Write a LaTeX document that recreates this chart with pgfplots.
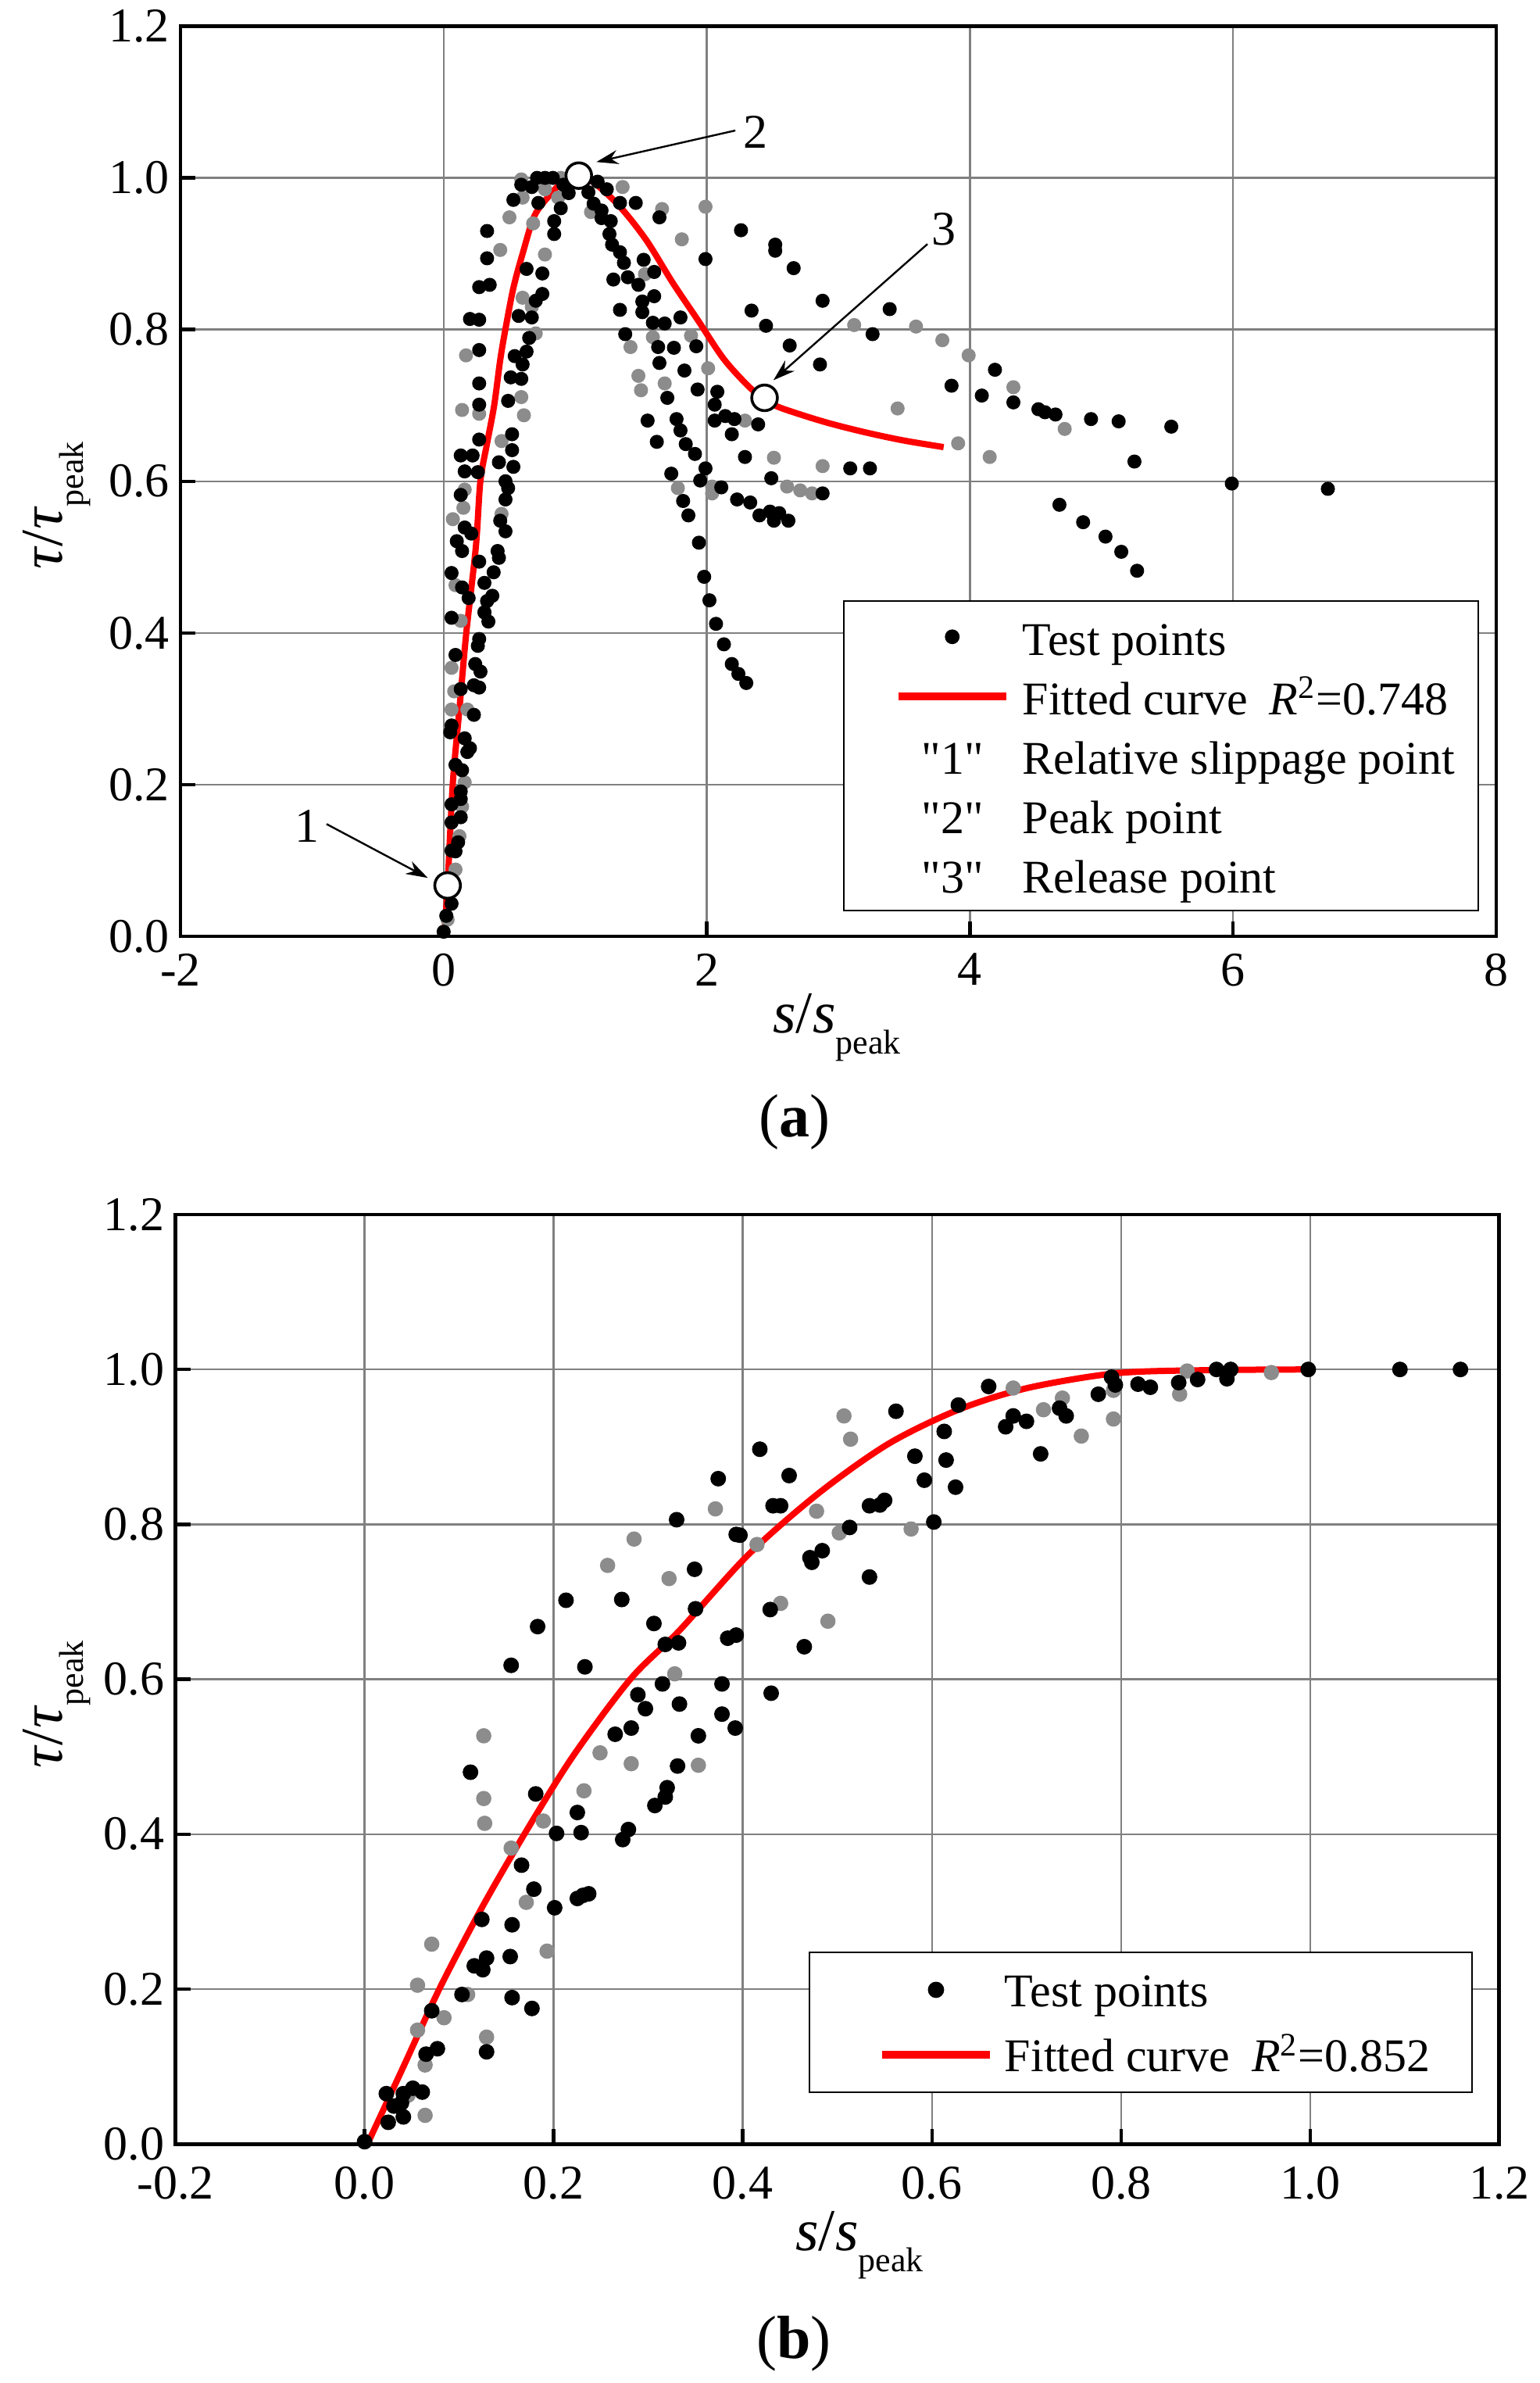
\documentclass[border=0pt]{standalone}
\usepackage{fontspec}
\setmainfont{Liberation Serif}
\newfontfamily\qfont{Liberation Serif}
\usepackage{pgfplots}
\pgfplotsset{compat=1.18}
\usetikzlibrary{arrows.meta}

\pgfplotsset{
  myax/.style={
    scale only axis,
    axis line style={line width=1.2pt},
    tick pos=left, tick align=inside,
    major tick length=4.75pt,
    every tick/.style={black, line width=1.1pt},
    grid=major,
    major grid style={line width=0.6pt, draw=black!50},
    ticklabel style={font=\fontsize{15.5}{15.5}\selectfont},
    /pgf/number format/assume math mode=true,
    ymin=0, ymax=1.2, ytick={0,0.2,0.4,0.6,0.8,1.0,1.2},
    yticklabel style={/pgf/number format/.cd, fixed, fixed zerofill, precision=1},
    legend cell align=left,
  },
  graypts/.style={only marks, mark=*, mark size=2.05pt, draw=black!45, fill=black!45, forget plot},
  blackpts/.style={only marks, mark=*, mark size=2.05pt, black},
  fitline/.style={red, line width=2pt, no marks, smooth, tension=0.5},
  dotlegend/.style={legend image code/.code={\path (0pt,0pt); \draw[mark repeat=2,mark phase=2,##1] plot coordinates {(9pt,0pt) (26.25pt,0pt) (43.5pt,0pt)};}},
  linelegend/.style={legend image code/.code={\path (0pt,0pt); \draw[##1, line width=2.5pt] (9pt,0pt) -- (43.5pt,0pt);}},
}

\begin{document}
\begin{tikzpicture}
\path[use as bounding box] (0,0) rectangle (492.5pt,762.25pt);

% ================= (a) =================
\begin{axis}[myax,
  at={(57.75pt,462.75pt)}, anchor=south west,
  width=421pt, height=291.1pt,
  xmin=-2, xmax=8, xtick={-2,0,2,4,6,8},
  xticklabel style={yshift=-2pt},
  legend style={at={(0.987,0.0275)}, anchor=south east, draw=black, line width=0.6pt,
    inner xsep=7.5pt, inner ysep=2pt, font=\fontsize{15}{15}\selectfont,
    nodes={inner sep=0pt, text height=15.5pt, text depth=3.5pt}, column sep=4pt},
]
\addplot[graypts] coordinates {
(0.59,0.998) (0.77,0.985) (0.89,1.0) (0.60,0.974) (0.87,0.974) (0.50,0.948) (0.68,0.94)
(0.43,0.905) (0.77,0.899) (0.60,0.842) (0.67,0.830) (0.70,0.795) (0.17,0.766) (0.14,0.694)
(0.27,0.689) (0.59,0.711) (0.61,0.687) (0.44,0.653) (0.16,0.589) (0.15,0.565) (0.07,0.550)
(0.44,0.557) (1.12,0.955) (1.36,0.988) (1.42,0.777) (1.66,0.959) (1.99,0.962) (1.81,0.919)
(1.53,0.873) (3.12,0.806) (3.59,0.804) (1.59,0.790) (1.88,0.792) (1.48,0.739) (1.50,0.720)
(1.68,0.729) (2.01,0.749) (2.29,0.680) (2.51,0.631) (3.45,0.696) (2.88,0.620) (2.61,0.593)
(2.71,0.588) (2.80,0.584) (2.04,0.593) (2.04,0.584) (1.78,0.591) (3.79,0.786) (3.99,0.766)
(4.33,0.724) (4.72,0.669) (3.91,0.650) (4.15,0.632) (0.09,0.463) (0.13,0.416) (0.31,0.428)
(0.06,0.354) (0.08,0.323) (0.06,0.299) (0.18,0.299) (0.16,0.203) (0.14,0.171) (0.12,0.132)
(0.09,0.088) (0.03,0.022)
};
\addplot[blackpts, dotlegend] coordinates {
(0.59,0.991) (0.67,0.988) (0.71,1.0) (0.77,1.0) (0.83,1.0) (0.91,0.991) (0.95,0.98) (0.72,0.967)
(0.89,0.96) (0.84,0.943) (0.84,0.926) (0.53,0.971) (0.33,0.93) (0.33,0.894) (0.63,0.88)
(0.75,0.874) (0.75,0.847) (0.70,0.838) (0.27,0.856) (0.35,0.859) (0.20,0.814) (0.27,0.813)
(0.57,0.818) (0.67,0.816) (0.65,0.789) (0.63,0.771) (0.27,0.773) (0.54,0.765) (0.60,0.754)
(0.51,0.737) (0.59,0.735) (0.27,0.729) (0.49,0.706) (0.27,0.701) (0.27,0.655) (0.13,0.634)
(0.22,0.634) (0.52,0.662) (0.52,0.641) (0.42,0.625) (0.53,0.619) (0.16,0.613) (0.26,0.612)
(0.47,0.600) (0.49,0.591) (0.47,0.576) (0.13,0.582) (0.43,0.548) (0.47,0.534) (0.16,0.539)
(0.21,0.531) (0.10,0.521)
(0.14,0.508) (0.41,0.508) (0.42,0.499) (0.27,0.494) (0.06,0.479) (0.38,0.480) (0.31,0.466)
(0.14,0.460) (0.19,0.446) (0.37,0.449) (0.33,0.442) (0.06,0.420) (0.34,0.415) (0.31,0.427)
(0.27,0.392) (0.26,0.383) (0.09,0.371) (0.24,0.359) (0.28,0.349) (0.13,0.326) (0.23,0.331)
(0.27,0.328) (0.23,0.292) (0.06,0.278) (0.05,0.269) (0.16,0.261) (0.20,0.248) (0.18,0.243)
(0.09,0.226) (0.14,0.219) (0.13,0.191) (0.13,0.181) (0.06,0.174) (0.13,0.157) (0.06,0.150)
(0.11,0.124) (0.06,0.113) (0.09,0.112) (0.06,0.043) (0.02,0.027) (0.00,0.006)
(1.10,0.981) (1.17,0.995) (1.24,0.985) (1.34,0.967) (1.14,0.966) (1.20,0.957) (1.20,0.947)
(1.27,0.943) (1.26,0.926) (1.28,0.912) (1.34,0.902) (1.37,0.888) (1.29,0.866) (1.40,0.869)
(1.34,0.826) (1.38,0.794)
(1.46,0.967) (1.64,0.948) (2.26,0.931) (2.52,0.912) (2.52,0.904) (2.66,0.881) (1.99,0.893)
(2.88,0.838) (3.39,0.827) (2.34,0.825) (2.45,0.805) (3.26,0.794) (2.63,0.779) (2.86,0.754)
(1.52,0.892) (1.60,0.876) (1.48,0.859) (1.60,0.844) (1.51,0.837) (1.51,0.823) (1.59,0.809)
(1.68,0.808) (1.80,0.816) (1.63,0.777) (1.75,0.776) (1.92,0.778) (1.64,0.756) (1.83,0.746)
(1.93,0.721) (2.08,0.718) (2.06,0.701) (1.70,0.710) (1.55,0.680) (1.77,0.682) (2.14,0.686)
(2.06,0.680) (2.21,0.682) (2.19,0.662) (2.39,0.675) (1.80,0.667) (1.62,0.652) (1.84,0.649)
(1.91,0.636) (2.29,0.632) (3.09,0.617) (3.24,0.617) (2.49,0.604) (2.88,0.584) (1.73,0.610)
(1.99,0.617) (1.95,0.601) (2.11,0.592) (2.23,0.576) (2.33,0.572) (2.40,0.555) (2.48,0.560)
(2.51,0.548) (2.55,0.558) (2.62,0.548) (1.82,0.574) (1.86,0.555) (1.94,0.519)
(3.86,0.726) (4.19,0.747) (4.09,0.713) (4.33,0.704) (4.52,0.695) (4.57,0.691) (4.65,0.688)
(4.92,0.682) (5.13,0.679) (5.53,0.672) (5.25,0.626) (5.99,0.597) (6.72,0.590) (4.68,0.569)
(4.86,0.546) (5.03,0.527) (5.15,0.507) (5.27,0.482)
(1.98,0.474) (2.02,0.443) (2.07,0.412) (2.13,0.385) (2.19,0.359) (2.24,0.346) (2.30,0.334)
};
\addlegendentry{Test points}
\addplot[fitline, linelegend] coordinates {
(0.004,0) (0.03,0.067) (0.069,0.2) (0.12,0.3) (0.172,0.4) (0.245,0.514) (0.279,0.6)
(0.33,0.65) (0.384,0.7) (0.43,0.76) (0.469,0.8) (0.53,0.855) (0.60,0.9) (0.69,0.95)
(0.81,0.978) (0.91,0.995) (1.03,1.0) (1.14,0.994) (1.34,0.962) (1.54,0.918) (1.74,0.862)
(1.93,0.813) (2.13,0.761) (2.33,0.723) (2.44,0.71) (2.53,0.699) (2.73,0.687) (2.92,0.677)
(3.12,0.668) (3.32,0.66) (3.52,0.653) (3.80,0.645)
};
\addlegendentry{Fitted curve\hspace{7pt}\textit{R}\textsuperscript{2}=0.748}
\addplot[only marks, mark=*, mark size=4.1pt, mark options={fill=white, draw=black, line width=0.9pt}, forget plot]
  coordinates {(0.030,0.067) (1.027,1.003) (2.439,0.710)};
\addlegendimage{empty legend}
\addlegendentry{\llap{{\qfont"1"}\hspace{12.5pt}}Relative slippage point}
\addlegendimage{empty legend}
\addlegendentry{\llap{{\qfont"2"}\hspace{12.5pt}}Peak point}
\addlegendimage{empty legend}
\addlegendentry{\llap{{\qfont"3"}\hspace{12.5pt}}Release point}

\draw[line width=0.6pt, -{Stealth[length=7pt, width=4.5pt]}] (axis cs:-0.89,0.148) -- (axis cs:-0.12,0.077);
\draw[line width=0.6pt, -{Stealth[length=7pt, width=4.5pt]}] (axis cs:2.217,1.0625) -- (axis cs:1.161,1.021);
\draw[line width=0.6pt, -{Stealth[length=7pt, width=4.5pt]}] (axis cs:3.677,0.9128) -- (axis cs:2.506,0.7332);
\node[font=\fontsize{15.5}{15.5}\selectfont] at (axis cs:-1.039,0.1454) {1};
\node[font=\fontsize{15.5}{15.5}\selectfont] at (axis cs:2.368,1.060) {2};
\node[font=\fontsize{15.5}{15.5}\selectfont] at (axis cs:3.80,0.9325) {3};
\end{axis}

% ================= (b) =================
\begin{axis}[myax,
  at={(56.15pt,76.45pt)}, anchor=south west,
  width=423.55pt, height=297.3pt,
  xmin=-0.2, xmax=1.2, xtick={-0.2,0,0.2,0.4,0.6,0.8,1.0,1.2},
  xticklabel style={yshift=-3.75pt, /pgf/number format/.cd, fixed, fixed zerofill, precision=1},
  legend style={at={(0.980,0.0547)}, anchor=south east, draw=black, line width=0.6pt,
    inner xsep=13.25pt, inner ysep=2pt, font=\fontsize{15}{15}\selectfont,
    nodes={inner sep=0pt, text height=15.5pt, text depth=4.5pt}, column sep=3.5pt, row sep=0.75pt},
]
\addplot[graypts, mark size=2.25pt] coordinates {
(0.959,0.996) (0.870,0.998) (0.862,0.968) (0.792,0.973) (0.792,0.936) (0.686,0.976)
(0.718,0.948) (0.738,0.963) (0.758,0.914) (0.507,0.940) (0.514,0.910) (0.578,0.794)
(0.502,0.789) (0.478,0.817) (0.490,0.675) (0.440,0.698) (0.415,0.774) (0.371,0.820)
(0.285,0.781) (0.257,0.747) (0.322,0.730) (0.328,0.607) (0.249,0.505) (0.282,0.491)
(0.353,0.489) (0.232,0.456) (0.189,0.417) (0.155,0.382) (0.171,0.312) (0.193,0.249)
(0.126,0.527) (0.126,0.446) (0.127,0.414) (0.071,0.258) (0.056,0.205) (0.084,0.163)
(0.109,0.193) (0.129,0.138) (0.056,0.147) (0.064,0.102) (0.046,0.063) (0.064,0.037)
(0.041,0.035)
};
\addplot[blackpts, mark size=2.3pt, dotlegend] coordinates {
(1.095,1.0) (1.159,1.0) (0.998,1.0) (0.901,1.0) (0.916,1.0) (0.912,0.988) (0.881,0.987)
(0.861,0.983) (0.831,0.977) (0.818,0.981) (0.794,0.980) (0.790,0.990) (0.776,0.968)
(0.735,0.950) (0.742,0.940) (0.715,0.891) (0.700,0.933) (0.686,0.940) (0.678,0.926)
(0.660,0.978) (0.628,0.954) (0.613,0.920) (0.615,0.883) (0.625,0.848) (0.602,0.803)
(0.592,0.857) (0.582,0.888) (0.562,0.946) (0.550,0.831) (0.545,0.825) (0.534,0.824)
(0.534,0.732) (0.513,0.796) (0.484,0.766) (0.471,0.757) (0.473,0.751) (0.465,0.642)
(0.449,0.863) (0.440,0.824) (0.432,0.824) (0.418,0.897) (0.429,0.690) (0.430,0.582)
(0.397,0.786) (0.393,0.787) (0.393,0.657) (0.384,0.653) (0.392,0.537) (0.378,0.555)
(0.378,0.594) (0.374,0.859) (0.349,0.742) (0.350,0.691) (0.353,0.527) (0.330,0.806)
(0.332,0.647) (0.333,0.568) (0.331,0.488) (0.318,0.645) (0.315,0.594) (0.320,0.460)
(0.318,0.448) (0.307,0.437) (0.306,0.672) (0.297,0.562) (0.289,0.580) (0.282,0.537)
(0.265,0.529) (0.279,0.406) (0.273,0.393) (0.272,0.703) (0.233,0.616) (0.213,0.702)
(0.225,0.428) (0.229,0.402) (0.237,0.323) (0.231,0.321) (0.225,0.317) (0.203,0.401)
(0.201,0.305) (0.183,0.668) (0.181,0.452) (0.179,0.329) (0.177,0.175) (0.166,0.360)
(0.156,0.283) (0.154,0.242) (0.156,0.189) (0.155,0.618) (0.112,0.480) (0.124,0.290)
(0.129,0.240) (0.125,0.225) (0.116,0.230) (0.129,0.119) (0.103,0.193) (0.077,0.123)
(0.071,0.172) (0.065,0.116) (0.061,0.067) (0.051,0.072) (0.041,0.065) (0.023,0.065)
(0.039,0.053) (0.031,0.049) (0.041,0.035) (0.025,0.028) (0.000,0.003)
};
\addlegendentry{Test points}
\addplot[fitline, linelegend] coordinates {
(0.003,0) (0.04,0.097) (0.079,0.2) (0.124,0.305) (0.169,0.4) (0.22,0.5) (0.281,0.6)
(0.333,0.663) (0.406,0.761) (0.48,0.84) (0.554,0.904) (0.628,0.948) (0.701,0.976)
(0.794,0.995) (0.886,0.999) (1.0,1.0)
};
\addlegendentry{Fitted curve\hspace{7pt}\textit{R}\textsuperscript{2}=0.852}
\end{axis}

% ---- labels ----
\node[anchor=base] at (267.75pt,431.8pt) {\fontsize{19}{19}\selectfont\textit{s}/\textit{s}\raisebox{-6.7pt}{\fontsize{11}{11}\selectfont peak}};
\node[rotate=90, anchor=base] at (20pt,600.5pt) {\fontsize{19}{19}\selectfont\textit{τ}/\textit{τ}\raisebox{-6.7pt}{\fontsize{11}{11}\selectfont peak}};
\node[anchor=base] at (254.25pt,398.5pt) {\fontsize{19.5}{19.5}\selectfont(\textbf{a})};

\node[anchor=base] at (275pt,42.25pt) {\fontsize{19}{19}\selectfont\textit{s}/\textit{s}\raisebox{-6.7pt}{\fontsize{11}{11}\selectfont peak}};
\node[rotate=90, anchor=base] at (20pt,217pt) {\fontsize{19}{19}\selectfont\textit{τ}/\textit{τ}\raisebox{-6.7pt}{\fontsize{11}{11}\selectfont peak}};
\node[anchor=base] at (254pt,8pt) {\fontsize{19.5}{19.5}\selectfont(\textbf{b})};
\end{tikzpicture}
\end{document}
